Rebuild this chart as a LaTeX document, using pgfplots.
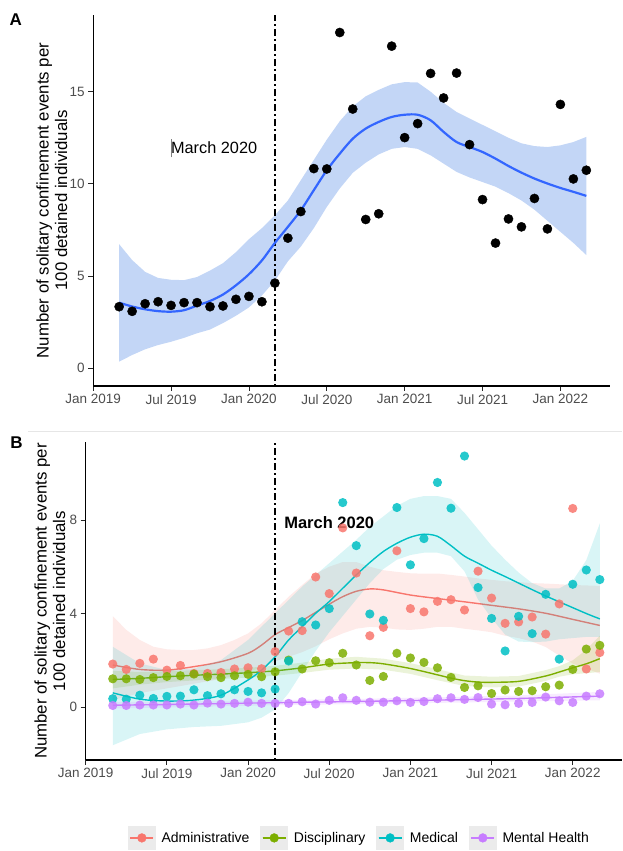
\documentclass[border=0pt]{standalone}
\usepackage{pgfplots}
\pgfplotsset{compat=1.18}
\usepackage{fontspec}
\setmainfont{Liberation Sans}
\definecolor{cA}{HTML}{F8766D}
\definecolor{cD}{HTML}{7CAE00}
\definecolor{cM}{HTML}{00BFC4}
\definecolor{cH}{HTML}{C77CFF}
\definecolor{sm}{HTML}{3366FF}
\definecolor{smband}{HTML}{C3D6F6}
\definecolor{keybg}{HTML}{EBEBEB}
\definecolor{ticktxt}{HTML}{4D4D4D}
\definecolor{sep}{HTML}{E6E6E6}
\pgfplotsset{
  panel/.style={
    scale only axis,
    axis lines*=left,
    axis line style={-, line width=1.2pt, black},
    tick align=outside,
    major tick length=5pt,
    every tick/.style={black!85, line width=0.8pt},
    xtick={0,6,12,18,24,30,36},
    xticklabels={Jan 2019,Jul 2019,Jan 2020,Jul 2020,Jan 2021,Jul 2021,Jan 2022},
    tick label style={font=\fontsize{13.5}{16}\selectfont, text=ticktxt},
    /pgf/number format/assume math mode=true,
    ylabel={Number of solitary confinement events per\\100 detained individuals},
  },
  ylab/.style={every axis y label/.style={at={(axis description cs:#1,0.5)}, rotate=90, anchor=center, align=center, font=\fontsize{16.8}{18.5}\selectfont}},
  vline/.style={black, line width=1.4pt, dash pattern=on 2pt off 3pt on 7pt off 3pt},
  bpts/.style={only marks, mark=*, mark size=4.6pt, mark options={fill=#1, draw opacity=0, fill opacity=0.85}, forget plot},
  bline/.style={#1, line width=1.4pt, smooth, tension=0.5, forget plot},
  bband/.style={draw=none, fill=#1, fill opacity=0.15, forget plot},
}
\begin{document}
\begin{tikzpicture}
\useasboundingbox (0,0) rectangle (622pt,851pt);
\node[font=\fontsize{17}{20}\selectfont\bfseries] at (15.7pt,831pt) {A};
\node[font=\fontsize{17}{20}\selectfont\bfseries] at (16.5pt,408pt) {B};
\draw[sep, line width=1pt] (28pt,419pt) -- (622pt,419pt);

% ---------------- Panel A ----------------
\begin{axis}[panel, at={(93.2pt,465pt)}, anchor=south west,
  width=516.5pt, height=371pt,
  xmin=0, xmax=39.8, ymin=-0.96, ymax=19.16, ytick={0,5,10,15},
  ylab=-0.080]
\addplot[draw=none, fill=smband] coordinates {
(2,6.73)(3,5.87)(4,5.23)(5,4.9)(6,4.8)(7,4.78)(8,4.95)(9,5.3)(10,5.7)(11,6.3)(12,7.0)(13,7.6)(14,8.3)(15,9.1)(16,10.2)(17,11.3)(18,12.4)(19,13.4)(20,14.2)(21,14.75)(22,15.1)(23,15.4)(24,15.52)(25,15.5)(26,15.0)(27,14.4)(28,13.9)(29,13.55)(30,13.2)(31,12.85)(32,12.5)(33,12.2)(34,12.05)(35,12.0)(36,12.09)(37,12.27)(38,12.55)
(38,6.14)(37,6.8)(36,7.4)(35,8.0)(34,8.6)(33,9.1)(32,9.5)(31,9.85)(30,10.1)(29,10.35)(28,10.65)(27,11.1)(26,11.55)(25,11.9)(24,12.0)(23,11.9)(22,11.6)(21,11.15)(20,10.6)(19,9.75)(18,8.75)(17,7.6)(16,6.6)(15,5.8)(14,4.75)(13,3.95)(12,3.3)(11,2.85)(10,2.45)(9,2.1)(8,1.9)(7,1.65)(6,1.44)(5,1.26)(4,1.03)(3,0.72)(2,0.36)
} -- cycle;
\addplot[vline] coordinates {(14,-0.96) (14,19.16)};
\addplot[sm, line width=2.2pt, smooth, tension=0.5] coordinates {
(2,3.56)(3,3.35)(4,3.2)(5,3.1)(6,3.07)(7,3.15)(8,3.4)(9,3.65)(10,4.0)(11,4.5)(12,5.1)(13,5.85)(14,6.8)(15,7.67)(16,8.57)(17,9.66)(18,10.74)(19,11.64)(20,12.45)(21,13.0)(22,13.36)(23,13.63)(24,13.75)(25,13.75)(26,13.45)(27,12.82)(28,12.27)(29,12.0)(30,11.73)(31,11.37)(32,10.97)(33,10.61)(34,10.29)(35,10.02)(36,9.78)(37,9.57)(38,9.35)
};
\addplot[only marks, mark=*, mark size=4.6pt, black] coordinates {
(2,3.34)(3,3.09)(4,3.50)(5,3.61)(6,3.41)(7,3.56)(8,3.56)(9,3.34)(10,3.38)(11,3.74)(12,3.90)(13,3.61)(14,4.62)(15,7.06)(16,8.50)(17,10.83)(18,10.81)(19,18.21)(20,14.06)(21,8.07)(22,8.38)(23,17.47)(24,12.51)(25,13.27)(26,15.99)(27,14.66)(28,16.01)(29,12.13)(30,9.15)(31,6.79)(32,8.10)(33,7.67)(34,9.21)(35,7.56)(36,14.31)(37,10.27)(38,10.74)
};
\node[font=\fontsize{16.3}{18}\selectfont] at (axis cs:9.3,11.95) {\textcolor{gray}{\rule[-0.25em]{0.5pt}{1.15em}}March 2020};
\end{axis}

% ---------------- Panel B ----------------
\begin{axis}[panel, at={(85.7pt,91pt)}, anchor=south west,
  width=536.3pt, height=318pt,
  xmin=0, xmax=39.64, ymin=-2.26, ymax=11.33, ytick={0,4,8},
  ylab=-0.067,
  legend style={at={(0.5106,-0.245)}, anchor=center, draw=none, fill=none,
    legend columns=4, font=\fontsize{14}{16}\selectfont,
    /tikz/every odd column/.append style={column sep=4pt},
    /tikz/every even column/.append style={column sep=9pt}},
  legend image code/.code={
    \fill[keybg] (0pt,-11.5pt) rectangle (27pt,11.5pt);
    \draw[#1, line width=1.4pt] (2pt,0pt) -- (25pt,0pt);
    \fill[#1] (13.5pt,0pt) circle (4.4pt);
  }]
% points
\addplot[bpts=cA] coordinates {
(2,1.84)(3,1.61)(4,1.87)(5,2.05)(6,1.58)(7,1.78)(8,1.44)(9,1.44)(10,1.48)(11,1.63)(12,1.68)(13,1.64)(14,2.37)(15,3.25)(16,3.27)(17,5.56)(18,4.85)(19,7.66)(20,5.73)(21,3.05)(22,3.41)(23,6.68)(24,4.21)(25,4.07)(26,4.52)(27,4.59)(28,4.15)(29,5.81)(30,4.66)(31,3.58)(32,3.64)(33,3.85)(34,3.12)(35,4.41)(36,8.49)(37,1.63)(38,2.33)
};
\addplot[bpts=cD] coordinates {
(2,1.21)(3,1.21)(4,1.18)(5,1.26)(6,1.31)(7,1.34)(8,1.41)(9,1.30)(10,1.26)(11,1.34)(12,1.40)(13,1.30)(14,1.51)(15,2.01)(16,1.63)(17,1.98)(18,1.90)(19,2.30)(20,1.80)(21,1.14)(22,1.31)(23,2.30)(24,2.10)(25,1.91)(26,1.68)(27,1.27)(28,0.84)(29,0.91)(30,0.58)(31,0.73)(32,0.67)(33,0.70)(34,0.87)(35,0.94)(36,1.61)(37,2.48)(38,2.64)
};
\addplot[bpts=cM] coordinates {
(2,0.36)(3,0.34)(4,0.51)(5,0.37)(6,0.46)(7,0.47)(8,0.74)(9,0.49)(10,0.57)(11,0.74)(12,0.67)(13,0.61)(14,0.77)(15,1.97)(16,3.65)(17,3.51)(18,4.21)(19,8.74)(20,6.90)(21,3.98)(22,3.71)(23,8.53)(24,6.08)(25,7.20)(26,9.60)(27,8.50)(28,10.73)(29,5.11)(30,3.79)(31,2.40)(32,3.88)(33,3.14)(34,4.82)(35,2.05)(36,5.25)(37,5.86)(38,5.45)
};
\addplot[bpts=cH] coordinates {
(2,0.07)(3,0.07)(4,0.09)(5,0.09)(6,0.09)(7,0.13)(8,0.09)(9,0.17)(10,0.13)(11,0.16)(12,0.21)(13,0.16)(14,0.16)(15,0.16)(16,0.23)(17,0.13)(18,0.29)(19,0.40)(20,0.29)(21,0.21)(22,0.21)(23,0.27)(24,0.20)(25,0.24)(26,0.36)(27,0.40)(28,0.33)(29,0.41)(30,0.13)(31,0.10)(32,0.16)(33,0.20)(34,0.43)(35,0.27)(36,0.20)(37,0.47)(38,0.57)
};
% bands
\addplot[bband=cA] coordinates {
(2,3.89)(3,3.30)(4,2.87)(5,2.58)(6,2.47)(7,2.44)(8,2.44)(9,2.51)(10,2.65)(11,2.87)(12,3.15)(13,3.58)(14,4.15)(15,4.72)(16,5.22)(17,5.70)(18,6.0)(19,6.2)(20,6.2)(21,6.0)(22,5.85)(23,5.78)(24,5.72)(25,5.7)(26,5.71)(27,5.65)(28,5.58)(29,5.5)(30,5.44)(31,5.38)(32,5.34)(33,5.3)(34,5.28)(35,5.25)(36,5.22)(37,5.2)(38,5.18)
(38,1.43)(37,1.65)(36,1.86)(35,2.2)(34,2.57)(33,2.8)(32,2.95)(31,3.05)(30,3.2)(29,3.28)(28,3.35)(27,3.43)(26,3.43)(25,3.35)(24,3.3)(23,3.32)(22,3.4)(21,3.43)(20,3.35)(19,3.15)(18,2.9)(17,2.6)(16,2.35)(15,2.15)(14,1.95)(13,1.7)(12,1.5)(11,1.35)(10,1.2)(9,1.1)(8,1.0)(7,0.9)(6,0.8)(5,0.7)(4,0.6)(3,0.45)(2,0.3)
} -- cycle;
\addplot[bline=cA] coordinates {
(2,1.80)(4,1.61)(6,1.58)(8,1.73)(10,1.94)(12,2.30)(13,2.65)(14,3.1)(15,3.4)(16,3.7)(17,4.05)(18,4.4)(19,4.72)(20,4.95)(21,5.05)(22,5.01)(24,4.79)(26,4.64)(28,4.5)(30,4.35)(32,4.2)(34,4.01)(36,3.75)(38,3.49)
};
\addplot[bband=cD] coordinates {
(2,1.55)(4,1.5)(6,1.53)(8,1.58)(10,1.62)(12,1.68)(14,1.77)(16,1.9)(18,2.07)(20,2.15)(22,2.07)(24,1.88)(26,1.62)(28,1.35)(30,1.3)(32,1.33)(34,1.58)(35,1.75)(36,2.0)(37,2.45)(38,3.05)
(38,1.5)(37,1.45)(36,1.4)(35,1.3)(34,1.12)(32,0.88)(30,0.84)(28,0.9)(26,1.15)(24,1.42)(22,1.6)(20,1.65)(18,1.6)(16,1.46)(14,1.34)(12,1.26)(10,1.2)(8,1.14)(6,1.07)(4,0.96)(2,0.8)
} -- cycle;
\addplot[bline=cD] coordinates {
(2,1.18)(4,1.23)(6,1.30)(8,1.36)(10,1.41)(12,1.47)(14,1.55)(16,1.68)(18,1.84)(20,1.90)(21,1.9)(22,1.85)(24,1.65)(26,1.38)(27,1.24)(28,1.13)(29,1.07)(30,1.06)(32,1.1)(34,1.33)(35,1.5)(36,1.68)(37,1.85)(38,2.07)
};
\addplot[bband=cM] coordinates {
(2,2.58)(4,1.87)(6,1.58)(8,1.65)(10,2.01)(12,2.87)(14,4.01)(16,5.15)(18,6.15)(20,7.15)(21,7.7)(22,8.15)(23,8.6)(24,8.9)(25,9.02)(26,9.02)(27,8.9)(28,8.3)(29,7.6)(30,6.9)(31,6.3)(32,5.75)(33,5.3)(34,5.07)(35,5.07)(36,5.4)(37,6.28)(38,7.85)
(38,3.0)(37,3.0)(36,2.95)(35,2.9)(34,2.8)(33,2.78)(32,2.8)(31,3.1)(30,3.8)(29,4.6)(28,5.8)(27,6.45)(26,6.6)(25,6.6)(24,6.5)(23,6.3)(22,5.9)(21,5.3)(20,4.6)(19,3.9)(18,3.2)(17,2.4)(16,1.5)(15,0.6)(14,-0.1)(13,-0.45)(12,-0.65)(10,-0.8)(8,-0.85)(6,-0.95)(4,-1.15)(2,-1.63)
} -- cycle;
\addplot[bline=cM] coordinates {
(2,0.61)(4,0.34)(6,0.26)(8,0.30)(10,0.51)(12,1.16)(13,1.58)(14,2.15)(15,2.87)(16,3.44)(17,4.01)(18,4.51)(19,5.08)(20,5.65)(21,6.18)(22,6.65)(23,7.0)(24,7.26)(25,7.39)(26,7.3)(27,6.9)(28,6.45)(29,6.15)(30,5.85)(31,5.58)(32,5.3)(33,5.02)(34,4.75)(35,4.5)(36,4.25)(37,4.0)(38,3.77)
};
\addplot[bband=cH] coordinates {
(2,0.22)(8,0.25)(14,0.3)(20,0.35)(26,0.42)(32,0.5)(38,0.65)
(38,0.29)(32,0.24)(26,0.18)(20,0.13)(14,0.08)(8,0.01)(2,-0.06)
} -- cycle;
\addplot[bline=cH] coordinates {
(2,0.08)(8,0.13)(14,0.19)(20,0.24)(26,0.30)(32,0.37)(38,0.47)
};
\addplot[vline, forget plot] coordinates {(14,-2.26) (14,11.33)};
\node[font=\fontsize{16.5}{18}\selectfont\bfseries] at (axis cs:18.0,7.88) {March 2020};
% legend
\addlegendimage{draw=cA, fill=cA}
\addlegendentry{Administrative}
\addlegendimage{draw=cD, fill=cD}
\addlegendentry{Disciplinary}
\addlegendimage{draw=cM, fill=cM}
\addlegendentry{Medical}
\addlegendimage{draw=cH, fill=cH}
\addlegendentry{Mental Health}
\end{axis}
\end{tikzpicture}
\end{document}
